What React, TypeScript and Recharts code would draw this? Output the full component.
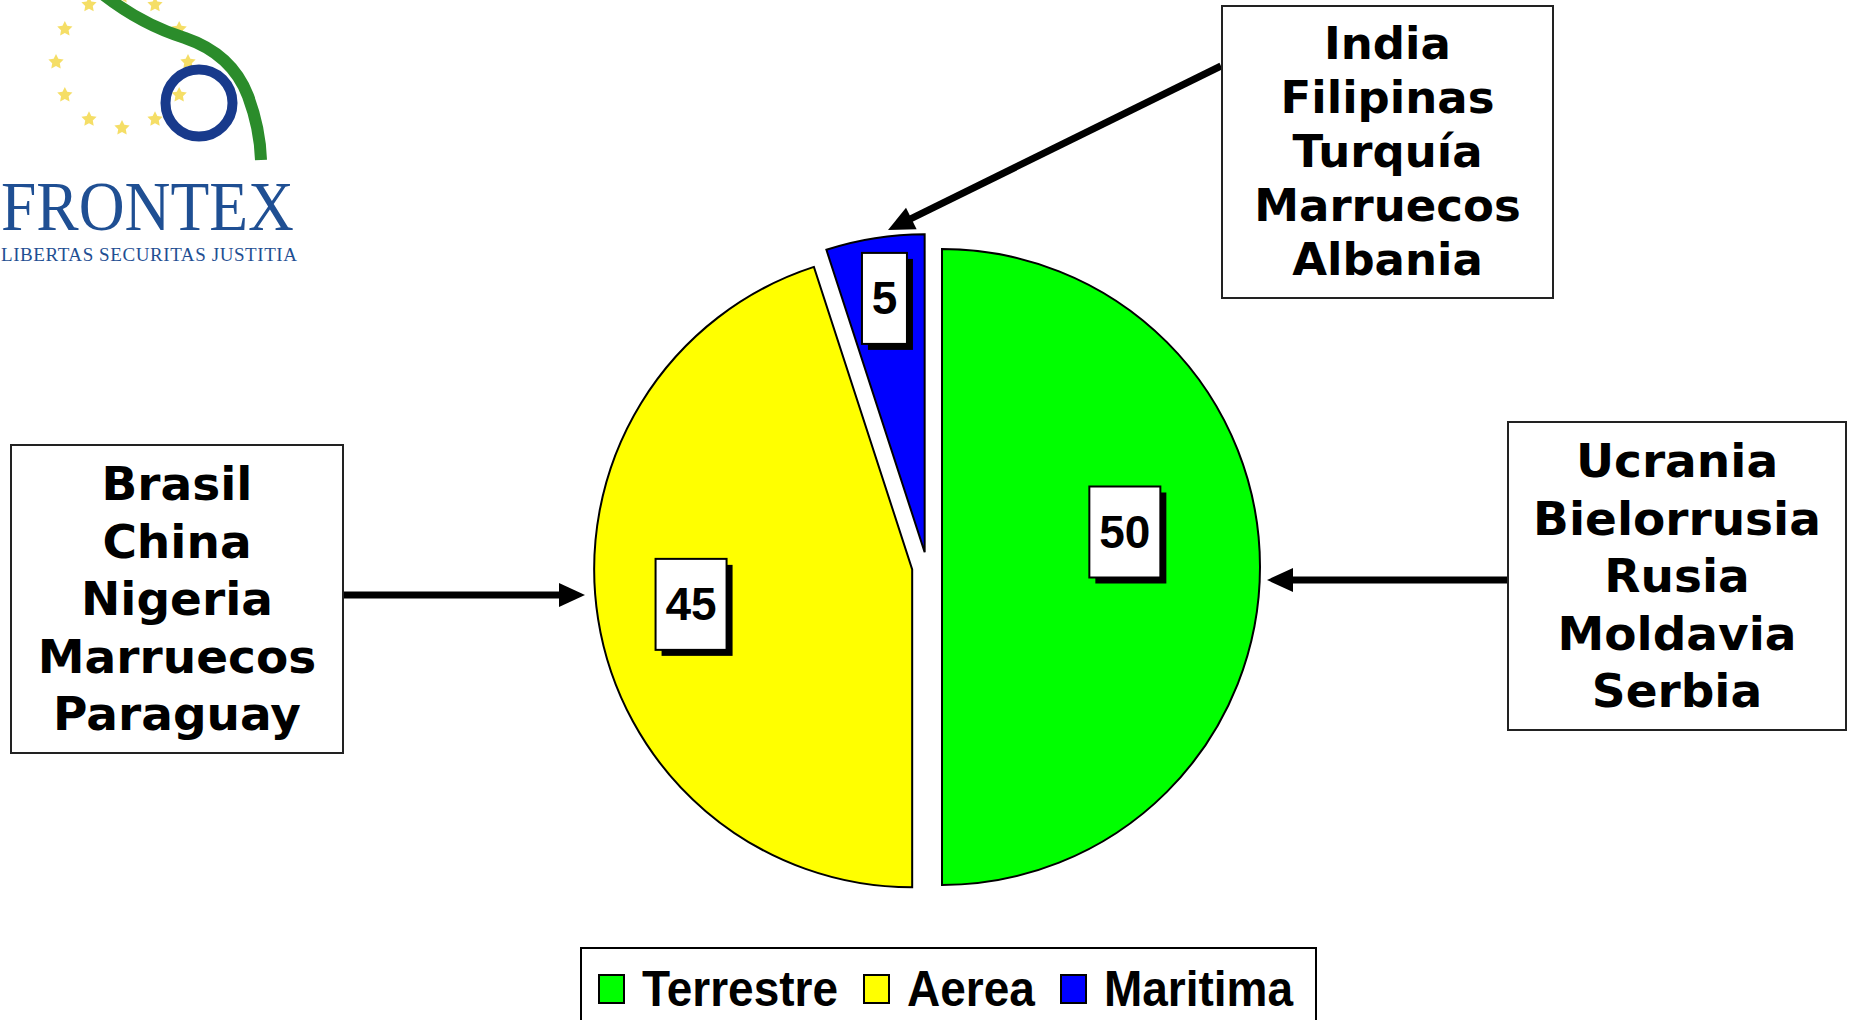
import { PieChart, Pie, Sector, Legend } from 'recharts'

const categories = ['Terrestre', 'Aerea', 'Maritima']
const values = [50, 45, 5]
const colors = ['#00ff00', '#ffff00', '#0000ff']

const topCountries = ['India', 'Filipinas', 'Turquía', 'Marruecos', 'Albania']
const leftCountries = ['Brasil', 'China', 'Nigeria', 'Marruecos', 'Paraguay']
const rightCountries = ['Ucrania', 'Bielorrusia', 'Rusia', 'Moldavia', 'Serbia']

const data = categories.map((name, i) => ({ name, value: values[i], fill: colors[i] }))

const RADIAN = Math.PI / 180
const EXPLODE = 15
// where each value box sits, as a share of the radius
const labelRadius = [0.575, 0.704, 0.808]
const labelShiftY = [-35, 0, 0]

const BOX_FONT = '"DejaVu Sans", Verdana, sans-serif'
const ARIAL = '"Liberation Sans", Arial, sans-serif'

function ExplodedSector(props: any) {
  const { cx, cy, midAngle } = props
  const dx = EXPLODE * Math.cos(-midAngle * RADIAN)
  const dy = EXPLODE * Math.sin(-midAngle * RADIAN)
  return <Sector {...props} cx={cx + dx} cy={cy + dy} />
}

function renderLabel(props: any) {
  const { cx, cy, midAngle, outerRadius, index, value } = props
  const r = outerRadius * labelRadius[index] + EXPLODE
  const x = cx + r * Math.cos(-midAngle * RADIAN)
  const y = cy + r * Math.sin(-midAngle * RADIAN) + labelShiftY[index]
  const text = String(value)
  const w = text.length * 26 + 19
  const h = 91
  return (
    <g key={`lbl-${index}`}>
      <rect x={x - w / 2 + 6} y={y - h / 2 + 6} width={w} height={h} fill="#000" />
      <rect x={x - w / 2} y={y - h / 2} width={w} height={h} fill="#fff" stroke="#000" strokeWidth={2} />
      <text
        x={x}
        y={y}
        textAnchor="middle"
        dominantBaseline="central"
        fontFamily={ARIAL}
        fontWeight="bold"
        fontSize={46}
        fill="#000"
      >
        {text}
      </text>
    </g>
  )
}

function LegendBox(props: any) {
  // keep the series order, the legend sorts by name otherwise
  const payload: any[] = props.payload || []
  const items = categories.map((name, i) => {
    const p = payload.find((e: any) => e.value === name)
    return { name, color: p ? p.color : colors[i] }
  })
  return (
    <div
      style={{
        boxSizing: 'border-box',
        width: 737,
        height: 100,
        border: '2px solid #000',
        background: '#fff',
        display: 'flex',
        alignItems: 'flex-start',
        paddingLeft: 16,
        paddingTop: 22,
      }}
    >
      {items.map((it) => (
        <div key={it.name} style={{ display: 'flex', alignItems: 'center', height: 36 }}>
          <span
            style={{
              display: 'inline-block',
              boxSizing: 'border-box',
              width: 27,
              height: 30,
              background: it.color,
              border: '2px solid #000',
              marginRight: 17,
            }}
          />
          <span
            style={{
              display: 'inline-block',
              fontFamily: ARIAL,
              fontWeight: 'bold',
              fontSize: 46,
              lineHeight: '36px',
              transform: 'scaleY(1.08)',
              marginRight: 25,
              color: '#000',
            }}
          >
            {it.name}
          </span>
        </div>
      ))}
    </div>
  )
}

function CountryBox({ lines, left, top, width, height, fontSize, lineHeight }: any) {
  return (
    <div
      style={{
        position: 'absolute',
        left,
        top,
        width,
        height,
        boxSizing: 'border-box',
        border: '2px solid #222',
        background: '#fff',
        display: 'flex',
        flexDirection: 'column',
        justifyContent: 'center',
        alignItems: 'center',
        fontFamily: BOX_FONT,
        fontWeight: 'bold',
        fontSize,
        lineHeight: `${lineHeight}px`,
        color: '#000',
        whiteSpace: 'nowrap',
      }}
    >
      {lines.map((l: string) => (
        <div key={l}>{l}</div>
      ))}
    </div>
  )
}

function Arrow({ x1, y1, x2, y2 }: { x1: number; y1: number; x2: number; y2: number }) {
  const len = Math.hypot(x2 - x1, y2 - y1)
  const ux = (x2 - x1) / len
  const uy = (y2 - y1) / len
  const head = 26
  const half = 12
  const bx = x2 - ux * head
  const by = y2 - uy * head
  const pts = `${x2},${y2} ${bx - uy * half},${by + ux * half} ${bx + uy * half},${by - ux * half}`
  return (
    <g>
      <line x1={x1} y1={y1} x2={bx + ux * 2} y2={by + uy * 2} stroke="#000" strokeWidth={7} />
      <polygon points={pts} fill="#000" />
    </g>
  )
}

function star(cx: number, cy: number, r: number) {
  const pts: string[] = []
  for (let k = 0; k < 10; k++) {
    const rr = k % 2 === 0 ? r : r * 0.5
    const a = -Math.PI / 2 + (k * Math.PI) / 5
    pts.push(`${cx + rr * Math.cos(a)},${cy + rr * Math.sin(a)}`)
  }
  return pts.join(' ')
}

function Logo() {
  const stars = Array.from({ length: 12 }, (_, k) => {
    const a = (k * 30 * Math.PI) / 180
    return { x: 122 + 66 * Math.sin(a), y: 62 - 66 * Math.cos(a) }
  })
  return (
    <g>
      {stars.map((s, k) => (
        <polygon key={k} points={star(s.x, s.y, 8)} fill="#f3d84b" opacity={0.85} />
      ))}
      <path
        d="M 100 -8 Q 140 24 185 38 Q 232 54 248 96 Q 260 128 261 160"
        fill="none"
        stroke="#2b8c2b"
        strokeWidth={12}
      />
      <circle cx={199} cy={103} r={33.5} fill="none" stroke="#183a8c" strokeWidth={10} />
      <text
        x={1}
        y={230}
        fontFamily='"Liberation Serif", "Times New Roman", serif'
        fontSize={70}
        fill="#1f4f93"
        textLength={293}
        lengthAdjust="spacingAndGlyphs"
      >
        FRONTEX
      </text>
      <text
        x={1}
        y={261}
        fontFamily='"Liberation Serif", "Times New Roman", serif'
        fontSize={19}
        fill="#1f4f93"
        textLength={296}
        lengthAdjust="spacing"
      >
        LIBERTAS SECURITAS JUSTITIA
      </text>
    </g>
  )
}

export default function App() {
  return (
    <div
      style={{
        position: 'absolute',
        left: 0,
        top: 0,
        width: 1857,
        height: 1020,
        overflow: 'hidden',
        background: '#fff',
      }}
    >
      <PieChart width={1857} height={1020} margin={{ top: 0, right: 0, bottom: 0, left: 0 }}>
        <Pie
          data={data}
          dataKey="value"
          nameKey="name"
          cx={927}
          cy={567}
          outerRadius={318}
          startAngle={90}
          endAngle={-270}
          stroke="#000"
          strokeWidth={2}
          labelLine={false}
          label={renderLabel}
          shape={ExplodedSector}
          activeShape={ExplodedSector}
          inactiveShape={ExplodedSector}
          isAnimationActive={false}
        />
        <Legend
          content={LegendBox}
          wrapperStyle={{ left: 580, top: 947, bottom: 'auto', width: 737 }}
        />
      </PieChart>

      <svg
        width={1857}
        height={1020}
        style={{ position: 'absolute', left: 0, top: 0, pointerEvents: 'none' }}
      >
        <Logo />
        <Arrow x1={1221} y1={66} x2={888} y2={230} />
        <Arrow x1={343} y1={595} x2={585} y2={595} />
        <Arrow x1={1508} y1={580} x2={1267} y2={580} />
      </svg>

      <CountryBox lines={topCountries} left={1221} top={5} width={333} height={294} fontSize={45} lineHeight={54} />
      <CountryBox lines={leftCountries} left={10} top={444} width={334} height={310} fontSize={47} lineHeight={57.5} />
      <CountryBox lines={rightCountries} left={1507} top={421} width={340} height={310} fontSize={47} lineHeight={57.5} />
    </div>
  )
}
